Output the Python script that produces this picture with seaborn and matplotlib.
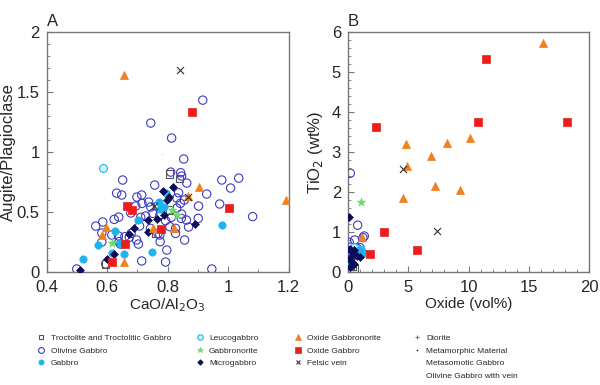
import numpy as np
import pandas as pd
import matplotlib
matplotlib.use("Agg")
import matplotlib.pyplot as plt
from matplotlib.lines import Line2D
from matplotlib.ticker import MultipleLocator, FuncFormatter
import seaborn as sns

# ---------------------------------------------------------------------------
# Panel A: CaO/Al2O3 vs Augite/Plagioclase
# ---------------------------------------------------------------------------
troct_a_x = [0.807, 0.840, 0.760, 0.595, 0.807]
troct_a_y = [0.817, 0.780, 0.325, 0.067, 0.517]

olgab_a_x = [0.916, 0.744, 0.813, 0.853, 0.651, 0.631, 0.648, 0.698, 0.714, 0.757,
             0.737, 0.744, 0.830, 0.863, 0.846, 0.810, 0.830, 0.902, 0.979, 1.035,
             0.972, 0.929, 1.008, 0.694, 0.678, 0.638, 0.585, 0.562, 0.582, 0.615,
             0.707, 0.846, 0.869, 0.856, 0.797, 0.793, 0.714, 0.582, 0.499, 0.946,
             1.081, 0.715, 0.766, 0.842, 0.855, 0.836, 0.843, 0.623, 0.637, 0.658,
             0.679, 0.711, 0.727, 0.751, 0.774, 0.793, 0.812, 0.845, 0.862, 0.826,
             0.807, 0.743, 0.768, 0.774, 0.826, 0.775, 0.639, 0.644, 0.703, 0.697,
             0.673, 0.595, 0.901]
olgab_a_y = [1.433, 1.242, 1.117, 0.942, 0.767, 0.658, 0.642, 0.625, 0.642, 0.725,
             0.583, 0.542, 0.617, 0.742, 0.800, 0.833, 0.533, 0.550, 0.767, 0.783,
             0.567, 0.650, 0.700, 0.550, 0.492, 0.458, 0.417, 0.383, 0.325, 0.308,
             0.383, 0.483, 0.375, 0.267, 0.183, 0.083, 0.092, 0.250, 0.025, 0.025,
             0.462, 0.572, 0.550, 0.572, 0.600, 0.661, 0.828, 0.439, 0.300, 0.294,
             0.322, 0.456, 0.467, 0.489, 0.475, 0.428, 0.456, 0.447, 0.433, 0.364,
             0.378, 0.364, 0.322, 0.308, 0.322, 0.253, 0.253, 0.233, 0.233, 0.267,
             0.289, 0.067, 0.447]

gab_a_x = [0.519, 0.568, 0.625, 0.701, 0.616, 0.655, 0.747, 0.770, 0.774, 0.787,
           0.793, 0.979, 0.641]
gab_a_y = [0.108, 0.225, 0.342, 0.433, 0.158, 0.150, 0.167, 0.583, 0.525, 0.542,
           0.658, 0.392, 0.242]

leuco_a_x = [0.587]
leuco_a_y = [0.867]

gabnor_a_x = [0.616, 0.813, 0.830]
gabnor_a_y = [0.242, 0.517, 0.475]

micro_a_x = [0.509, 0.598, 0.621, 0.671, 0.688, 0.734, 0.734, 0.764, 0.787, 0.797,
             0.784, 0.817, 0.803, 0.889]
micro_a_y = [0.017, 0.108, 0.150, 0.317, 0.367, 0.333, 0.433, 0.442, 0.475, 0.600,
             0.675, 0.708, 0.625, 0.400]

oxgn_a_x = [0.655, 0.905, 0.868, 1.190, 0.596, 0.583, 0.750, 0.821, 0.657]
oxgn_a_y = [1.644, 0.708, 0.630, 0.597, 0.375, 0.306, 0.364, 0.367, 0.083]

oxgab_a_x = [0.879, 0.664, 0.683, 0.778, 1.003, 0.660, 0.616]
oxgab_a_y = [1.330, 0.550, 0.520, 0.360, 0.536, 0.233, 0.080]

felsic_a_x = [0.842, 0.866, 0.754]
felsic_a_y = [1.686, 0.626, 0.550]

meta_a_x = [0.782, 1.025]
meta_a_y = [0.980, 0.675]

# ---------------------------------------------------------------------------
# Panel B: Oxide (vol%) vs TiO2 (wt%)
# ---------------------------------------------------------------------------
troct_b_x = [0.40, 0.20, 0.50]
troct_b_y = [0.13, 0.17, 0.08]

olgab_b_x = [0.19, 0.80, 0.11, 0.55, 1.35, 1.24, 0.20, 0.36, 0.75, 0.99, 0.38, 0.05, 0.19]
olgab_b_y = [2.47, 1.17, 0.74, 0.80, 0.90, 0.86, 0.62, 0.55, 0.59, 0.61, 0.40, 0.30, 0.175]

gab_b_x = [0.94, 1.30, 1.10, 0.10, 0.75, 0.40]
gab_b_y = [0.55, 0.47, 0.52, 0.22, 0.51, 0.47]

leuco_b_x = [0.50, 1.05]
leuco_b_y = [0.62, 0.54]

gabnor_b_x = [1.08]
gabnor_b_y = [1.74]

micro_b_x = [0.05, 0.15, 0.30, 0.45, 0.08, 0.30, 0.50, 0.72, 1.00, 0.20, 0.50]
micro_b_y = [1.38, 0.58, 0.50, 0.42, 0.33, 0.25, 0.20, 0.40, 0.38, 0.13, 0.54]

oxgn_b_x = [16.15, 4.84, 8.22, 10.13, 6.89, 4.90, 7.22, 9.29, 4.56, 1.16]
oxgn_b_y = [5.73, 3.21, 3.23, 3.35, 2.90, 2.66, 2.15, 2.05, 1.84, 0.87]

oxgab_b_x = [11.42, 2.30, 10.82, 18.15, 3.02, 5.70, 1.80]
oxgab_b_y = [5.33, 3.63, 3.75, 3.76, 1.00, 0.54, 0.45]

felsic_b_x = [4.59, 7.41]
felsic_b_y = [2.58, 1.03]

# marker style per lithology: (marker, size, face, edge, linewidth)
styles = {
    "Troctolite and Troctolitic Gabbro": ("s", 26, "none", "#555555", 0.8),
    "Olivine Gabbro": ("o", 36, "none", "#3c3cc0", 0.8),
    "Gabbro": ("o", 28, "#1cb4ee", "#1cb4ee", 0.5),
    "Leucogabbro": ("o", 32, "#d8f2fb", "#1cb4ee", 0.8),
    "Gabbronorite": ("*", 40, "#66dd66", "#66dd66", 0.5),
    "Microgabbro": ("D", 16, "#0c0c5a", "#0c0c5a", 0.5),
    "Oxide Gabbronorite": ("^", 34, "#f08020", "#f08020", 0.5),
    "Oxide Gabbro": ("s", 40, "#ee1c1c", "#ee1c1c", 0.5),
    "Felsic vein": ("x", 26, "#333333", "#333333", 0.8),
    "Diorite": ("+", 26, "#777777", "#777777", 0.8),
    "Metamorphic Material": (".", 3, "#000000", "#000000", 0.5),
}

panel_a = [
    ("Olivine Gabbro", olgab_a_x, olgab_a_y),
    ("Troctolite and Troctolitic Gabbro", troct_a_x, troct_a_y),
    ("Leucogabbro", leuco_a_x, leuco_a_y),
    ("Gabbro", gab_a_x, gab_a_y),
    ("Gabbronorite", gabnor_a_x, gabnor_a_y),
    ("Microgabbro", micro_a_x, micro_a_y),
    ("Oxide Gabbronorite", oxgn_a_x, oxgn_a_y),
    ("Oxide Gabbro", oxgab_a_x, oxgab_a_y),
    ("Felsic vein", felsic_a_x, felsic_a_y),
    ("Metamorphic Material", meta_a_x, meta_a_y),
]
panel_b = [
    ("Olivine Gabbro", olgab_b_x, olgab_b_y),
    ("Troctolite and Troctolitic Gabbro", troct_b_x, troct_b_y),
    ("Leucogabbro", leuco_b_x, leuco_b_y),
    ("Gabbro", gab_b_x, gab_b_y),
    ("Gabbronorite", gabnor_b_x, gabnor_b_y),
    ("Microgabbro", micro_b_x, micro_b_y),
    ("Oxide Gabbronorite", oxgn_b_x, oxgn_b_y),
    ("Oxide Gabbro", oxgab_b_x, oxgab_b_y),
    ("Felsic vein", felsic_b_x, felsic_b_y),
]

sns.set_style("white")
plt.rcParams["font.family"] = ["Liberation Sans", "DejaVu Sans"]

fig = plt.figure(figsize=(6, 3.85), dpi=100)
ax1 = fig.add_axes([0.078, 0.2935, 0.403, 0.623])
ax2 = fig.add_axes([0.58, 0.2935, 0.402, 0.623])


def draw(ax, series):
    for name, xs, ys in series:
        m, s, fc, ec, lw = styles[name]
        df = pd.DataFrame({"x": xs, "y": ys})
        if m in ("x", "+", "."):
            sns.scatterplot(data=df, x="x", y="y", ax=ax, marker=m, s=s,
                            color=ec, linewidth=lw, legend=False, zorder=3)
        else:
            sns.scatterplot(data=df, x="x", y="y", ax=ax, marker=m, s=s,
                            facecolor=fc, edgecolor=ec, linewidth=lw,
                            legend=False, zorder=3)


draw(ax1, panel_a)
draw(ax2, panel_b)

fmt = FuncFormatter(lambda v, p: f"{v:g}")

ax1.set_xlim(0.4, 1.2)
ax1.set_ylim(0, 2)
ax1.xaxis.set_major_locator(MultipleLocator(0.2))
ax1.xaxis.set_minor_locator(MultipleLocator(0.1))
ax1.yaxis.set_major_locator(MultipleLocator(0.5))
ax1.yaxis.set_minor_locator(MultipleLocator(0.1))
ax1.xaxis.set_major_formatter(fmt)
ax1.yaxis.set_major_formatter(fmt)
ax1.set_xlabel("CaO/Al$_2$O$_3$", fontsize=11, labelpad=1)
ax1.set_ylabel("Augite/Plagioclase", fontsize=12)
ax1.yaxis.set_label_coords(-0.128, 0.5)

ax2.set_xlim(0, 20)
ax2.set_ylim(0, 6)
ax2.xaxis.set_major_locator(MultipleLocator(5))
ax2.xaxis.set_minor_locator(MultipleLocator(1))
ax2.yaxis.set_major_locator(MultipleLocator(1))
ax2.yaxis.set_minor_locator(MultipleLocator(0.2))
ax2.set_xlabel("Oxide (vol%)", fontsize=11, labelpad=1)
ax2.set_ylabel("TiO$_2$ (wt%)", fontsize=12)
ax2.yaxis.set_label_coords(-0.095, 0.5)

for ax, letter in ((ax1, "A"), (ax2, "B")):
    for sp in ax.spines.values():
        sp.set_color("#777777")
        sp.set_linewidth(1.0)
    ax.tick_params(axis="both", which="major", direction="in", length=4,
                   width=0.8, color="#777777", labelsize=12,
                   top=False, right=False, bottom=True, left=True)
    ax.tick_params(axis="x", which="major", pad=6)
    ax.tick_params(axis="y", which="major", pad=5)
    ax.tick_params(axis="both", which="minor", direction="in", length=2,
                   width=0.6, color="#777777", top=False, right=False,
                   bottom=True, left=True)
    ax.text(0.0, 1.015, letter, transform=ax.transAxes, fontsize=12,
            ha="left", va="bottom")
    ax.grid(False)


def handle(name):
    if name not in styles:
        return Line2D([], [], linestyle="none", marker="")
    m, s, fc, ec, lw = styles[name]
    ms = np.sqrt(s) * 0.7
    if m in ("x", "+", "."):
        return Line2D([], [], linestyle="none", marker=m, markersize=ms,
                      color=ec, markeredgewidth=lw)
    return Line2D([], [], linestyle="none", marker=m, markersize=ms,
                  markerfacecolor=fc, markeredgecolor=ec, markeredgewidth=lw)


legend_cols = [
    ["Troctolite and Troctolitic Gabbro", "Olivine Gabbro", "Gabbro"],
    ["Leucogabbro", "Gabbronorite", "Microgabbro"],
    ["Oxide Gabbronorite", "Oxide Gabbro", "Felsic vein"],
    ["Diorite", "Metamorphic Material", "Metasomotic Gabbro",
     "Olivine Gabbro with vein"],
]
col_x = [0.062, 0.326, 0.49, 0.688]
for names, x0 in zip(legend_cols, col_x):
    fig.legend([handle(n) for n in names], names, loc="upper left",
               bbox_to_anchor=(x0, 0.131), frameon=False, fontsize=6,
               handlelength=1.0, handletextpad=0.6, labelspacing=0.55,
               borderpad=0, borderaxespad=0)

fig.savefig("out.png", dpi=100)
